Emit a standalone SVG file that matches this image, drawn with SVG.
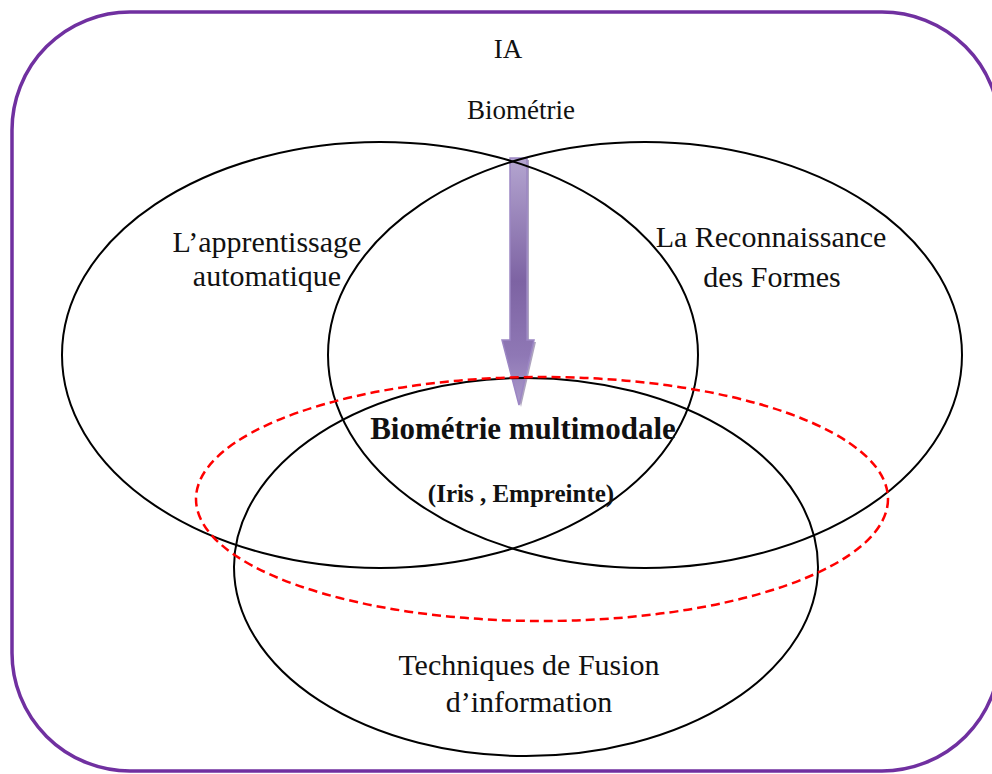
<svg xmlns="http://www.w3.org/2000/svg" width="992" height="774" viewBox="0 0 992 774">
  <style>
    .frame { fill: none; stroke: #7030A0; stroke-width: 3.5; }
    .set { fill: none; stroke: #000; stroke-width: 2; }
    .focus { fill: none; stroke: #FF0000; stroke-width: 2.5; stroke-dasharray: 9 5; }
    .lbl { font-family: "Liberation Serif", "Times New Roman", serif; fill: #111; text-anchor: middle; }
    .big { font-size: 30px; }
    .small { font-size: 27px; }
    .bold { font-weight: bold; }
  </style>
  <defs>
    <linearGradient id="arrowFill" x1="0" y1="0" x2="0" y2="1">
      <stop offset="0" stop-color="#b4a5d0"/>
      <stop offset="0.5" stop-color="#7d63a3"/>
      <stop offset="0.8" stop-color="#8f78b5"/>
      <stop offset="1" stop-color="#ab9acb"/>
    </linearGradient>
  </defs>

  <!-- outer domain frame -->
  <rect id="frame" class="frame" x="12" y="12" width="988" height="759" rx="118" ry="118"/>

  <g id="title">
    <text class="lbl small" x="508" y="58">IA</text>
    <text class="lbl small" x="521" y="119">Biométrie</text>
  </g>

  <!-- downward arrow with its drop shadow -->
  <g id="connectors">
    <path d="M512,160 L529,160 L529,342 L536,342 L521,407 L504,342 L512,342 Z" fill="#4b3570" opacity="0.45"/>
    <path d="M510,158 L527,158 L527,340 L534,340 L519,405 L502,340 L510,340 Z" fill="url(#arrowFill)" stroke="#9c86c4" stroke-width="1.5"/>
  </g>

  <g id="apprentissage">
    <ellipse class="set" cx="380" cy="355" rx="318" ry="213"/>
    <text class="lbl big" x="267" y="252">L’apprentissage</text>
    <text class="lbl big" x="267" y="286">automatique</text>
  </g>

  <g id="reconnaissance">
    <ellipse class="set" cx="645" cy="355" rx="317" ry="213"/>
    <text class="lbl big" x="771" y="247">La Reconnaissance</text>
    <text class="lbl big" x="772" y="287">des Formes</text>
  </g>

  <g id="fusion">
    <ellipse class="set" cx="526" cy="567" rx="292" ry="189"/>
    <text class="lbl big" x="529" y="675">Techniques de Fusion</text>
    <text class="lbl big" x="529" y="712">d’information</text>
  </g>

  <g id="multimodale">
    <ellipse class="focus" cx="542" cy="499" rx="346" ry="122"/>
    <text class="lbl bold" x="523" y="439" font-size="31">Biométrie multimodale</text>
    <text class="lbl bold" x="521" y="502" font-size="25">(Iris , Empreinte)</text>
  </g>
</svg>
